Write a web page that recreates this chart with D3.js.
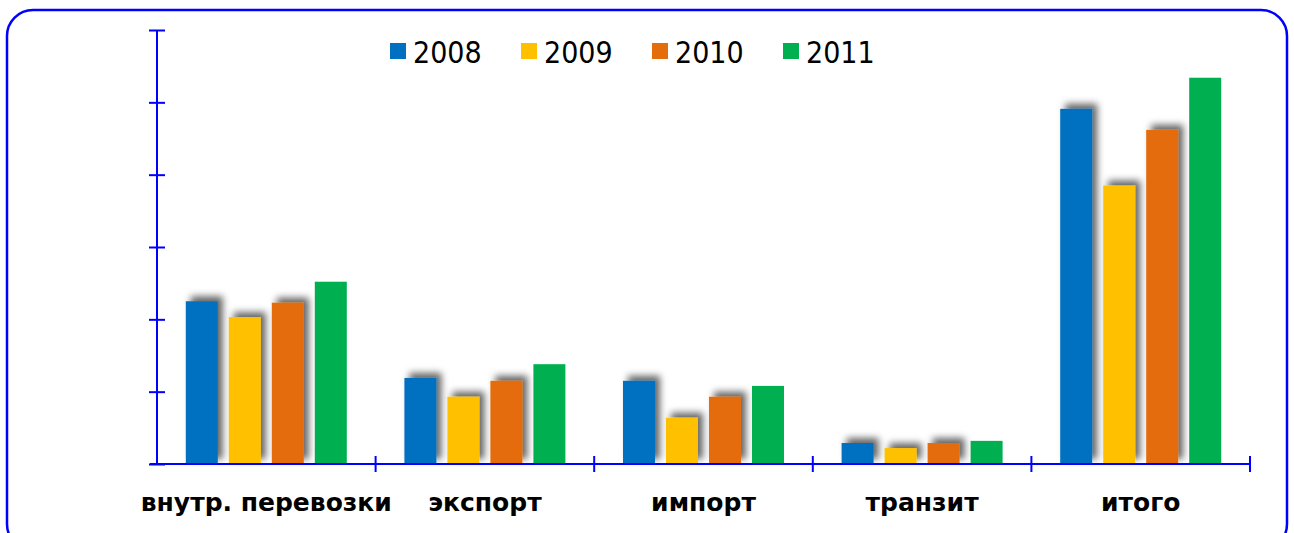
<!DOCTYPE html>
<html>
<head>
<meta charset="utf-8">
<script src="https://cdn.jsdelivr.net/npm/d3@7"></script>
<style>
  body { margin: 0; background: #fff; }
  svg { display: block; }
</style>
</head>
<body>
<div id="chart"></div>
<script>
const categories = ["внутр. перевозки", "экспорт", "импорт", "транзит", "итого"];
const series = ["2008", "2009", "2010", "2011"];
const colors = ["#0070c0", "#ffc000", "#e46c0a", "#00b050"];
const v2008 = [225, 119, 115, 29, 491];
const v2009 = [203, 93, 64, 22, 385];
const v2010 = [223, 115, 93, 29, 462];
const v2011 = [252, 138, 108, 32, 534];
const values = [v2008, v2009, v2010, v2011];
const yTicks = [0, 100, 200, 300, 400, 500, 600];

const W = 1294, H = 533;
const svg = d3.select("#chart").append("svg")
  .attr("width", W).attr("height", H);

const defs = svg.append("defs");
const f = defs.append("filter").attr("id", "shadow")
  .attr("x", "-30%").attr("y", "-30%").attr("width", "160%").attr("height", "160%");
f.append("feDropShadow")
  .attr("dx", 5).attr("dy", -5).attr("stdDeviation", 3.5)
  .attr("flood-color", "#000").attr("flood-opacity", 0.6);

// frame
svg.append("rect")
  .attr("x", 7).attr("y", 10).attr("width", 1280).attr("height", 540)
  .attr("rx", 26).attr("ry", 26)
  .attr("fill", "none").attr("stroke", "#0000ff").attr("stroke-width", 2.5);

const x = d3.scaleBand().domain(categories).range([157, 1250]);
const xs = d3.scaleBand().domain(series).range([0, x.bandwidth()])
  .paddingInner(0.256).paddingOuter(0.67);
const y = d3.scaleLinear().domain([0, 600]).range([464, 30]);

// bars
series.forEach((s, i) => {
  svg.append("g")
    .attr("filter", i < 3 ? "url(#shadow)" : null)
    .selectAll("rect")
    .data(values[i])
    .join("rect")
    .attr("x", (d, j) => x(categories[j]) + xs(s))
    .attr("y", d => y(d))
    .attr("width", xs.bandwidth())
    .attr("height", d => y(0) - y(d))
    .attr("fill", colors[i]);
});

// y axis
const ya = svg.append("g").attr("transform", "translate(157,0)")
  .call(d3.axisLeft(y).tickValues(yTicks).tickSize(8).tickFormat(""));
ya.select(".domain").attr("d", `M0,${y(600)}V${y(0)}`);
ya.selectAll(".tick line").attr("x1", -8).attr("x2", 8);
ya.selectAll("path, line").attr("stroke", "#0000ff").attr("stroke-width", 2);

// x axis
const xa = svg.append("g").attr("transform", "translate(0,464)")
  .call(d3.axisBottom(x).tickSize(0).tickPadding(0));
xa.select(".domain").attr("d", "M150,0H1250");
xa.selectAll("path").attr("stroke", "#0000ff").attr("stroke-width", 2);
xa.selectAll(".tick text")
  .attr("y", 47).attr("dy", 0)
  .attr("font-family", "DejaVu Sans, Verdana, sans-serif")
  .attr("font-weight", "bold").attr("font-size", 25).attr("fill", "#000");
const bounds = categories.map(c => x(c)).concat([x.range()[1]]).slice(1);
xa.selectAll(".bound").data(bounds).join("line")
  .attr("class", "bound")
  .attr("x1", d => d).attr("x2", d => d)
  .attr("y1", -8).attr("y2", 8)
  .attr("stroke", "#0000ff").attr("stroke-width", 2);

// legend
const lg = svg.append("g").attr("transform", "translate(390,0)");
series.forEach((s, i) => {
  const g = lg.append("g").attr("transform", `translate(${i * 131},0)`);
  g.append("rect").attr("x", 0).attr("y", 43).attr("width", 16).attr("height", 16)
    .attr("fill", colors[i]);
  g.append("text").attr("x", 23).attr("y", 63)
    .attr("font-family", "DejaVu Sans Condensed, Tahoma, sans-serif")
    .attr("font-size", 30).attr("fill", "#000").text(s);
});
</script>
</body>
</html>
